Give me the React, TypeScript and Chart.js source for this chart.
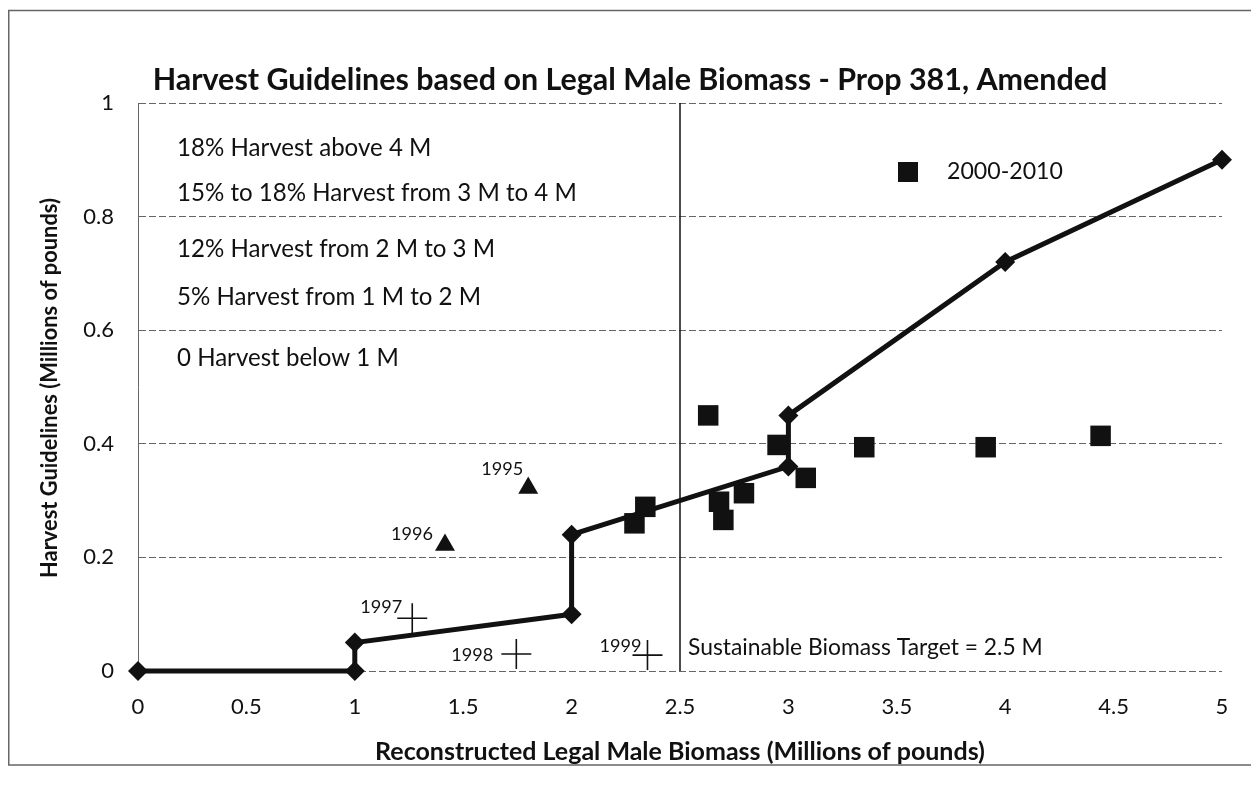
import React, { useEffect, useRef } from "react";
import { Chart, registerables } from "chart.js";

Chart.register(...registerables);

// ---- data ----
const guideX = [0, 1, 1, 2, 2, 3, 3, 4, 5];
const guideY = [0, 0, 0.05, 0.1, 0.24, 0.36, 0.45, 0.72, 0.9];

const recentX = [2.29, 2.34, 2.63, 2.68, 2.7, 2.795, 2.95, 3.08, 3.35, 3.91, 4.44];
const recentY = [0.26, 0.289, 0.45, 0.298, 0.266, 0.313, 0.398, 0.34, 0.394, 0.394, 0.414];

const triYears = ["1995", "1996"];
const triX = [1.8, 1.416];
const triY = [0.322, 0.222];

const crossYears = ["1997", "1998", "1999"];
const crossX = [1.265, 1.745, 2.35];
const crossY = [0.093, 0.03, 0.028];

const targetX = 2.5;
const targetLabel = "Sustainable Biomass Target = 2.5 M";
const legendLabel = "2000-2010";

const ruleLabels = [
  "18% Harvest above 4 M",
  "15% to 18% Harvest from 3 M to 4 M",
  "12% Harvest from 2 M to 3 M",
  "5% Harvest from 1 M to 2 M",
  "0 Harvest below 1 M",
];

const titleText = "Harvest Guidelines based on Legal Male Biomass - Prop 381, Amended";
const xTitle = "Reconstructed Legal Male Biomass (Millions of pounds)";
const yTitle = "Harvest Guidelines (Millions of pounds)";

// ---- style ----
const FONT = "Lato";
const INK = "#111";
const triLabelOffsets = [
  [-5, -19],
  [-12, -11],
];
const crossLabelOffsets = [
  [-10, -11],
  [-23, 1],
  [-6, -9],
];
const ruleYs = [140, 185, 241, 289, 350];

function fit(ctx: CanvasRenderingContext2D, text: string, w: number, weight: string) {
  ctx.font = `${weight} 100px ${FONT}`;
  const s = (100 * w) / ctx.measureText(text).width;
  ctx.font = `${weight} ${s}px ${FONT}`;
  return s;
}

const fmt = (v: any) => String(parseFloat(Number(v).toFixed(2)));

const textPlugin = {
  id: "texts",
  afterDraw(chart: any) {
    const { ctx } = chart;
    const xs = chart.scales.x;
    const ys = chart.scales.y;
    ctx.save();
    // frame
    ctx.strokeStyle = "#666";
    ctx.lineWidth = 1.5;
    ctx.strokeRect(0.75, 2.5, 1246.5, 754.5);

    ctx.fillStyle = INK;
    ctx.textBaseline = "middle";

    // title
    ctx.textAlign = "center";
    fit(ctx, titleText, 955, "bold");
    ctx.fillText(titleText, 622, 72);

    // x title
    fit(ctx, xTitle, 610, "bold");
    ctx.fillText(xTitle, 672, 744);

    // y title
    ctx.save();
    ctx.translate(42, 380);
    ctx.rotate(-Math.PI / 2);
    fit(ctx, yTitle, 380, "bold");
    ctx.fillText(yTitle, 0, 0);
    ctx.restore();

    // rules
    ctx.textAlign = "left";
    const rs = fit(ctx, ruleLabels[1], 400, "normal");
    ctx.font = `normal ${rs}px ${FONT}`;
    ruleLabels.forEach((t, i) => ctx.fillText(t, 169, ruleYs[i]));

    // target label
    fit(ctx, targetLabel, 355, "normal");
    ctx.fillText(targetLabel, xs.getPixelForValue(targetX) + 8, 640);

    // legend
    ctx.fillRect(890, 154, 20, 20);
    fit(ctx, legendLabel, 116, "normal");
    ctx.fillText(legendLabel, 939, 164);

    // year labels
    ctx.textAlign = "right";
    const ysz = fit(ctx, "1995", 42, "normal");
    ctx.font = `normal ${ysz}px ${FONT}`;
    triYears.forEach((t, i) => {
      const px = xs.getPixelForValue(triX[i]);
      const py = ys.getPixelForValue(triY[i]);
      ctx.fillText(t, px + triLabelOffsets[i][0], py + triLabelOffsets[i][1]);
    });
    crossYears.forEach((t, i) => {
      const px = xs.getPixelForValue(crossX[i]);
      const py = ys.getPixelForValue(crossY[i]);
      ctx.fillText(t, px + crossLabelOffsets[i][0], py + crossLabelOffsets[i][1]);
    });
    ctx.restore();
  },
};

export default function App() {
  const ref = useRef<HTMLCanvasElement | null>(null);
  useEffect(() => {
    if (!ref.current) return;
    const pts = (xa: number[], ya: number[]) => xa.map((x, i) => ({ x, y: ya[i] }));
    const chart = new Chart(ref.current, {
      type: "scatter",
      data: {
        datasets: [
          {
            label: "2000-2010",
            data: pts(recentX, recentY),
            pointStyle: "rect",
            pointRadius: 14.5,
            backgroundColor: INK,
            borderColor: INK,
            borderWidth: 0,
            clip: false,
          },
          {
            label: "1995-1996",
            data: pts(triX, triY),
            pointStyle: "triangle",
            pointRadius: 11.5,
            backgroundColor: INK,
            borderColor: INK,
            borderWidth: 0,
            clip: false,
          },
          {
            label: "1997-1999",
            data: pts(crossX, crossY),
            pointStyle: "cross",
            pointRadius: 15,
            backgroundColor: INK,
            borderColor: INK,
            borderWidth: 1.6,
            clip: false,
          },
          {
            label: "Guideline",
            data: pts(guideX, guideY),
            showLine: true,
            tension: 0,
            borderColor: INK,
            borderWidth: 5,
            pointStyle: "rectRot",
            pointRadius: 10,
            backgroundColor: INK,
            pointBorderWidth: 0,
            clip: false,
          },
          {
            label: "Target",
            data: [
              { x: targetX, y: 0 },
              { x: targetX, y: 1 },
            ],
            showLine: true,
            borderColor: INK,
            borderWidth: 1.5,
            pointRadius: 0,
          },
        ],
      },
      options: {
        animation: false,
        responsive: false,
        maintainAspectRatio: false,
        layout: { padding: { left: 70, right: 37, top: 95, bottom: 56 } },
        plugins: { legend: { display: false }, tooltip: { enabled: false }, title: { display: false } },
        scales: {
          x: {
            type: "linear",
            min: 0,
            max: 5,
            ticks: { stepSize: 0.5, padding: 23, color: INK, font: { family: FONT, size: 22 }, callback: fmt },
            grid: { display: false, drawTicks: false },
            border: { display: false },
            afterFit: (s: any) => {
              s.height = 60;
            },
          },
          y: {
            type: "linear",
            min: 0,
            max: 1,
            ticks: { stepSize: 0.2, padding: 24, color: INK, font: { family: FONT, size: 22 }, callback: fmt },
            grid: { color: "#666", lineWidth: 1, drawTicks: false },
            border: { display: true, color: "#666", width: 1, dash: [7, 3] },
            afterFit: (s: any) => {
              s.width = 60;
            },
          },
        },
      },
      plugins: [textPlugin],
    });
    return () => chart.destroy();
  }, []);
  return (
    <div style={{ width: 1251, height: 779 }}>
      <canvas ref={ref} width={1251} height={779} style={{ display: "block", width: 1251, height: 779 }} />
    </div>
  );
}
